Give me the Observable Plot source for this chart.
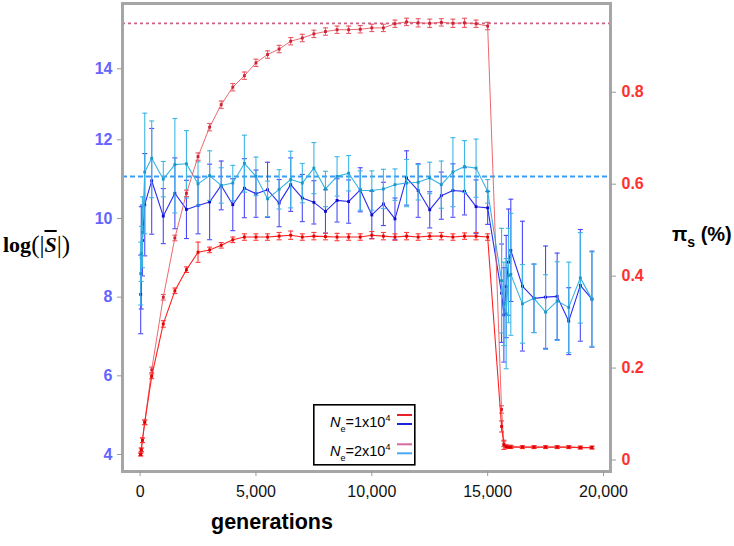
<!DOCTYPE html>
<html><head><meta charset="utf-8">
<script src="https://cdn.jsdelivr.net/npm/d3@7"></script>
<script src="https://cdn.jsdelivr.net/npm/@observablehq/plot@0.6"></script>
<style>
body{margin:0;background:#fff;}
#wrap{position:relative;width:734px;height:546px;font-family:"Liberation Sans",Arial,sans-serif;overflow:hidden;}
#wrap > svg{position:absolute;left:0;top:0;}
.lbl{position:absolute;white-space:nowrap;line-height:1;color:#000;}
</style></head><body><div id="wrap"></div>
<script>
// ---- data ----
const generations = [25, 50, 100, 200, 500, 1000, 1500, 2000, 2500, 3000, 3500, 4000, 4500, 5000, 5500, 6000, 6500, 7000, 7500, 8000, 8500, 9000, 9500, 10000, 10500, 11000, 11500, 12000, 12500, 13000, 13500, 14000, 14500, 15000, 15600, 15700, 15800, 15900, 16000, 16500, 17000, 17500, 18000, 18500, 19000, 19500];

// pi_s (%) for Ne = 1x10^4 (right axis)
const piNe1 = [0.012, 0.022, 0.043, 0.082, 0.182, 0.296, 0.368, 0.414, 0.452, 0.457, 0.467, 0.479, 0.485, 0.485, 0.485, 0.487, 0.489, 0.485, 0.487, 0.486, 0.485, 0.485, 0.485, 0.489, 0.487, 0.485, 0.487, 0.485, 0.487, 0.487, 0.485, 0.487, 0.487, 0.485, 0.073, 0.033, 0.029, 0.028, 0.028, 0.028, 0.028, 0.028, 0.028, 0.028, 0.027, 0.027];
const piNe1Err = [0.003, 0.004, 0.005, 0.005, 0.005, 0.007, 0.006, 0.006, 0.022, 0.006, 0.006, 0.006, 0.007, 0.007, 0.007, 0.008, 0.009, 0.007, 0.008, 0.007, 0.008, 0.007, 0.007, 0.008, 0.008, 0.007, 0.008, 0.007, 0.007, 0.008, 0.007, 0.007, 0.008, 0.007, 0.012, 0.01, 0.003, 0.003, 0.003, 0.003, 0.003, 0.003, 0.003, 0.003, 0.003, 0.003];

// pi_s (%) for Ne = 2x10^4 (right axis)
const piNe2 = [0.012, 0.022, 0.043, 0.082, 0.196, 0.354, 0.483, 0.580, 0.660, 0.724, 0.773, 0.811, 0.836, 0.864, 0.882, 0.894, 0.911, 0.918, 0.927, 0.932, 0.936, 0.936, 0.937, 0.940, 0.940, 0.949, 0.953, 0.951, 0.950, 0.952, 0.950, 0.951, 0.949, 0.944, 0.110, 0.035, 0.030, 0.029, 0.029, 0.028, 0.028, 0.028, 0.028, 0.028, 0.027, 0.027];
const piNe2Err = [0.003, 0.004, 0.005, 0.005, 0.006, 0.006, 0.006, 0.007, 0.008, 0.008, 0.008, 0.008, 0.008, 0.008, 0.008, 0.008, 0.008, 0.008, 0.008, 0.008, 0.008, 0.008, 0.008, 0.008, 0.008, 0.008, 0.008, 0.009, 0.009, 0.008, 0.009, 0.010, 0.008, 0.008, 0.008, 0.006, 0.003, 0.003, 0.003, 0.003, 0.003, 0.003, 0.003, 0.003, 0.003, 0.003];

// log(|S|) for Ne = 1x10^4 (left axis)
const logSNe1 = [8.07, 9.0, 9.44, 10.35, 10.96, 10.06, 10.64, 10.23, 10.33, 10.42, 10.84, 10.35, 10.77, 10.63, 10.73, 10.39, 10.86, 10.52, 10.41, 10.18, 10.46, 10.43, 10.73, 10.09, 10.37, 9.99, 11.03, 10.71, 10.22, 10.58, 10.71, 10.69, 10.30, 10.27, 8.10, 7.55, 8.27, 8.89, 9.19, 8.28, 7.97, 8.0, 8.02, 7.39, 8.30, 7.95];
const logSNe1Err = [1.0, 1.3, 0.9, 1.3, 1.36, 0.7, 0.9, 0.74, 0.72, 0.96, 0.62, 0.66, 0.75, 0.6, 0.7, 0.6, 0.68, 0.6, 0.55, 0.55, 0.55, 0.55, 0.56, 0.6, 0.55, 0.53, 0.69, 0.68, 0.46, 0.6, 0.68, 0.6, 0.68, 0.42, 1.25, 1.2, 1.3, 1.35, 1.3, 1.65, 0.87, 1.3, 1.1, 0.85, 1.42, 1.22];

// log(|S|) for Ne = 2x10^4 (left axis)
const logSNe2 = [8.6, 9.1, 9.65, 11.18, 11.53, 11.0, 11.37, 11.39, 10.88, 11.09, 10.84, 10.90, 11.40, 11.07, 10.50, 10.74, 10.99, 10.90, 11.28, 10.75, 11.07, 11.15, 10.71, 10.71, 10.75, 10.86, 10.90, 10.92, 11.03, 10.86, 11.18, 11.32, 11.28, 10.69, 8.42, 7.83, 7.58, 8.55, 8.58, 7.83, 7.97, 7.62, 7.90, 7.74, 8.49, 7.95];
const logSNe2Err = [0.8, 0.7, 0.9, 1.57, 1.0, 0.45, 1.23, 0.87, 0.56, 0.63, 0.45, 0.45, 0.73, 0.49, 0.45, 0.5, 0.72, 0.5, 0.65, 0.45, 0.5, 0.45, 0.5, 0.5, 0.5, 0.4, 0.6, 0.45, 0.4, 0.6, 0.88, 0.66, 0.74, 0.3, 1.33, 1.06, 1.4, 1.2, 1.55, 1.0, 0.87, 0.95, 1.0, 1.15, 1.15, 1.2];

// reference (dashed) levels
const piExpectedNe2 = 0.950;   // right axis
const logSExpected = 11.07;    // left axis

// ticks
const xTicks = [0, 5000, 10000, 15000, 20000];
const leftTicks = [4, 6, 8, 10, 12, 14];
const rightTicks = [0, 0.2, 0.4, 0.6, 0.8];

// legend
const legendNe = ["1x10", "2x10"];
const legendExp = ["4", "4"];
const legendColors = [["#e8222b", "#1f22dd"], ["#d66a9e", "#4aa9f2"]];

// ---- left axis: the reference's spacing is tighter between 12 and 14 ----
const leftPos = L => L <= 12 ? L : 12 + (L - 12) * 0.9025;
const leftInv = v => v <= 12 ? v : 12 + (v - 12) / 0.9025;
// ---- right axis (pi) expressed in the same position units ----
const piToL = p => 3.8602 + 11.686 * p;
const lToPi = l => (l - 3.8602) / 11.686;

function rows(vals, errs, conv) {
  return generations.map((g, i) => ({g, v: conv(vals[i]), lo: conv(vals[i] - errs[i]), hi: conv(vals[i] + errs[i])}));
}
const capSymbol = {draw(ctx, size) { const w = Math.sqrt(size / Math.PI); ctx.moveTo(-w, 0); ctx.lineTo(w, 0); }};

function series(data, line, bar, dotc, lw) {
  return [
    Plot.ruleX(data, {x: "g", y1: "lo", y2: "hi", stroke: bar, strokeWidth: 1.1}),
    Plot.dot(data, {x: "g", y: "lo", symbol: capSymbol, r: 2.5, stroke: bar, fill: "none", strokeWidth: 1.1}),
    Plot.dot(data, {x: "g", y: "hi", symbol: capSymbol, r: 2.5, stroke: bar, fill: "none", strokeWidth: 1.1}),
    Plot.line(data, {x: "g", y: "v", stroke: line, strokeWidth: lw}),
    Plot.dot(data, {x: "g", y: "v", symbol: "square", r: 1.6, fill: dotc, stroke: "none"})
  ];
}

const chart = Plot.plot({
  width: 734, height: 546,
  marginLeft: 122, marginRight: 124, marginTop: 3, marginBottom: 75,
  x: {domain: [-760, 20302]},
  y: {domain: [3.568, 15.465]},
  style: {background: "white", fontFamily: "Liberation Sans, Arial, sans-serif", overflow: "visible"},
  marks: [
    Plot.ruleY([leftPos(logSExpected)], {stroke: "#3a9cf5", strokeWidth: 2, strokeDasharray: "5,3"}),
    Plot.ruleY([piToL(piExpectedNe2)], {stroke: "#cc6088", strokeWidth: 1.8, strokeDasharray: "3,3"}),
    ...series(rows(logSNe1, logSNe1Err, leftPos), "#2a2af2", "#4a4af8", "#0a0ad0", 1.1),
    ...series(rows(logSNe2, logSNe2Err, leftPos), "#36b4e2", "#3fb6e6", "#1898c8", 1.1),
    ...series(rows(piNe2, piNe2Err, piToL), "#e8585e", "#e85a64", "#cc2036", 0.9),
    ...series(rows(piNe1, piNe1Err, piToL), "#ff2020", "#ff3a3a", "#e00000", 1.1),
    Plot.frame({stroke: "#a6a6a6", strokeWidth: 3}),
    Plot.axisY(leftTicks.map(leftPos), {anchor: "left", tickSize: 5, tickPadding: 5, stroke: "#9a9a9a", fill: "#6464ff", fontSize: 16, fontWeight: "bold", label: null, tickFormat: d => String(Math.round(leftInv(d)))}),
    Plot.axisY(rightTicks.map(piToL), {anchor: "right", tickSize: 5, tickPadding: 6, stroke: "#9a9a9a", fill: "#ff3030", fontSize: 16, fontWeight: "bold", label: null, tickFormat: d => String(+lToPi(d).toFixed(1))}),
    Plot.axisX(xTicks, {anchor: "bottom", tickSize: 5, tickPadding: 9, stroke: "#9a9a9a", fill: "#111", fontSize: 16, label: null, tickFormat: d3.format(",")})
  ]
});

const wrap = document.getElementById("wrap");
wrap.appendChild(chart);

// axis titles
const yl = document.createElement("div");
yl.className = "lbl";
yl.style.cssText = "left:3px;top:231px;font-family:'Liberation Serif',serif;font-size:22px;";
yl.innerHTML = '<b>log</b><span style="font-size:25px;font-weight:normal;position:relative;top:1px">(|</span><b><i style="text-decoration:overline;">S</i></b><span style="font-size:25px;font-weight:normal;position:relative;top:1px">|)</span>';
wrap.appendChild(yl);

const yr = document.createElement("div");
yr.className = "lbl";
yr.style.cssText = "left:672px;top:224px;font-size:20px;font-weight:bold;";
yr.innerHTML = 'π<sub style="font-size:14px;position:relative;top:1px">s</sub> (%)';
wrap.appendChild(yr);

const xl = document.createElement("div");
xl.className = "lbl";
xl.style.cssText = "left:211px;top:512px;font-size:21.5px;font-weight:bold;";
xl.textContent = "generations";
wrap.appendChild(xl);

// legend
const lg = d3.select(wrap).append("svg")
  .attr("width", 106).attr("height", 64)
  .style("position", "absolute").style("left", "312px").style("top", "403px");
lg.append("rect").attr("x", 1.8).attr("y", 1.8).attr("width", 101).attr("height", 60)
  .attr("fill", "white").attr("stroke", "#000").attr("stroke-width", 1.6);
legendNe.forEach((lab, i) => {
  const by = 24 + i * 28.5;
  const t = lg.append("text").attr("x", 18).attr("y", by)
    .attr("font-family", "Liberation Sans, Arial, sans-serif").attr("font-size", 14.5).attr("fill", "#000");
  t.append("tspan").attr("font-style", "italic").text("N");
  t.append("tspan").attr("font-size", 9).attr("dy", 5).text("e");
  t.append("tspan").attr("dy", -5).text("=" + lab);
  t.append("tspan").attr("font-size", 9).attr("dy", -6).text(legendExp[i]);
  legendColors[i].forEach((c, j) => {
    lg.append("line").attr("x1", 85).attr("x2", 100)
      .attr("y1", 12 + i * 29.3 + j * 9).attr("y2", 12 + i * 29.3 + j * 9)
      .attr("stroke", c).attr("stroke-width", 2);
  });
});
</script>
</body></html>
